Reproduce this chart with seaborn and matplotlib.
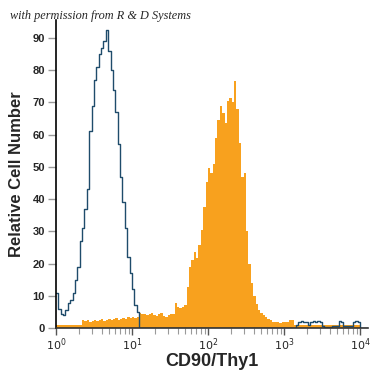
#!/usr/bin/env python3
"""Flow cytometry overlay: CD90/Thy1 staining vs isotype control."""

import numpy as np
import pandas as pd
import matplotlib
matplotlib.use("Agg")  # headless
import matplotlib.pyplot as plt
import seaborn as sns
from matplotlib.ticker import FixedLocator, NullFormatter

# 32 channels per decade, 10^0 .. 10^4.125  (132 channels)
N_CHANNELS = 132
LOG_MAX = 4.125

# isotype control (outline) per channel
isotype_counts = [
    11, 6, 4.5, 4.1, 5.6, 7.7, 8.7, 11, 15, 19,
    27, 31, 37, 43, 61, 69, 77, 81, 85, 87,
    89, 92.5, 86, 80, 74, 67, 57, 47, 39, 31,
    22, 17, 12, 7, 5, 0, 0, 0, 0, 0,
    0, 0, 0, 0, 0, 0, 0, 0, 0, 0,
    0, 0, 0, 0, 0, 0, 0, 0, 0, 0,
    0, 0, 0, 0, 0, 0, 0, 0, 0, 0,
    0, 0, 0, 0, 0, 0, 0, 0, 0, 0,
    0, 0, 0, 0, 0, 0, 0, 0, 0, 0,
    0, 0, 0, 0, 0, 0, 0, 0, 0, 0,
    0, 0.8, 2, 2.2, 2, 1.8, 1, 2, 2.2, 2,
    2.1, 1.9, 0.5, 0.4, 0.4, 0.4, 0.5, 0.5, 0.6, 2.1,
    2, 0.5, 0.5, 0.5, 0.5, 2, 2.2, 2, 0, 0,
    0, 0,
]

# CD90/Thy1 stained cells (filled)
cd90_counts = [
    0.9, 0.8, 1.0, 0.9, 0.9, 1.0, 0.8, 0.9, 1.0, 0.9,
    1.0, 2.4, 2.1, 2.5, 2.0, 2.3, 2.6, 2.2, 2.4, 2.8,
    2.3, 2.5, 2.7, 2.4, 2.9, 3.1, 2.6, 2.8, 3.2, 2.9,
    3.3, 3.0, 3.4, 3.1, 3.5, 4.6, 4.2, 4.5, 3.9, 4.4,
    4.8, 4.1, 3.6, 4.3, 4.7, 3.8, 3.5, 4.0, 4.4, 4.3,
    7.8, 6.5, 6.2, 6.4, 7.0, 12.8, 19, 21, 23.7, 21.7,
    25.8, 30.4, 37.7, 45.4, 49.6, 48, 51, 58.9, 64.6, 69,
    66.7, 63.5, 70.5, 71.5, 70, 76.8, 68, 57.4, 47, 48,
    30, 20, 14, 10, 7.5, 5.6, 4.8, 4.0, 3.4, 2.8,
    2.5, 2.0, 1.8, 1.9, 1.7, 1.8, 1.9, 1.8, 2.6, 2.6,
    1.0, 0.9, 0.8, 0.9, 1.0, 0.8, 0.9, 0.9, 1.0, 0.8,
    0.9, 0.8, 0.9, 1.0, 0.8, 0.9, 0.8, 0.9, 0.9, 1.0,
    0.8, 0.9, 0.8, 0.9, 1.0, 0.8, 0.9, 0.8, 0, 0,
    0, 0,
]

decade_labels = ["$10^0$", "$10^1$", "$10^2$", "$10^3$", "$10^4$"]
y_ticks = [0, 10, 20, 30, 40, 50, 60, 70, 80, 90]

ORANGE = "#F8A11E"
BLUE = "#1F4C6B"

sns.set_style("white")
plt.rcParams["font.family"] = ["Liberation Sans", "DejaVu Sans"]

# work in log10 units on a linear axis (decade ticks added by hand)
log_centers = (np.arange(N_CHANNELS) + 0.5) * LOG_MAX / N_CHANNELS
df = pd.DataFrame({
    "log_channel": log_centers,
    "isotype": isotype_counts,
    "cd90": cd90_counts,
})

fig = plt.figure(figsize=(3.75, 3.75), dpi=100)
ax = fig.add_axes([0.1493, 0.1253, 0.832, 0.8213])

sns.histplot(data=df, x="log_channel", weights="cd90", bins=N_CHANNELS,
             binrange=(0, LOG_MAX), element="step", fill=True,
             color=ORANGE, alpha=1, linewidth=0, ax=ax)
sns.histplot(data=df, x="log_channel", weights="isotype", bins=N_CHANNELS,
             binrange=(0, LOG_MAX), element="step", fill=False,
             color=BLUE, linewidth=1.0, ax=ax)

ax.set_xlim(0, 4.105)
ax.set_ylim(0, 95.6)

# axes styling
sns.despine(ax=ax)
ax.spines["left"].set_color("black")
ax.spines["left"].set_linewidth(1.2)
ax.spines["bottom"].set_color("#333333")
ax.spines["bottom"].set_linewidth(1.2)

ax.yaxis.set_major_locator(FixedLocator(y_ticks))
ax.tick_params(axis="y", direction="out", length=6, width=1, color="#9a9a9a",
               labelsize=8, pad=2, left=True)
for lbl in ax.get_yticklabels():
    lbl.set_fontweight("bold")

major = np.arange(len(decade_labels))
minor = [d + np.log10(k) for d in range(4) for k in range(2, 10)]
ax.xaxis.set_major_locator(FixedLocator(major))
ax.set_xticklabels(decade_labels)
ax.xaxis.set_minor_locator(FixedLocator(minor))
ax.xaxis.set_minor_formatter(NullFormatter())
ax.tick_params(axis="x", which="major", direction="out", length=5, width=1,
               color="#555555", labelsize=8, pad=1, bottom=True)
ax.tick_params(axis="x", which="minor", direction="out", length=4, width=0.8,
               color="#9a9a9a", bottom=True)

ax.set_xlabel("CD90/Thy1", fontsize=13, fontweight="bold", labelpad=0)
ax.set_ylabel("Relative Cell Number", fontsize=12, fontweight="bold", labelpad=6)

fig.text(0.027, 0.958, "with permission from R & D Systems", fontsize=8.8,
         fontstyle="italic", family=["Liberation Serif", "DejaVu Serif"],
         va="center", ha="left")

plt.savefig("out.png", dpi=100)
plt.close()
